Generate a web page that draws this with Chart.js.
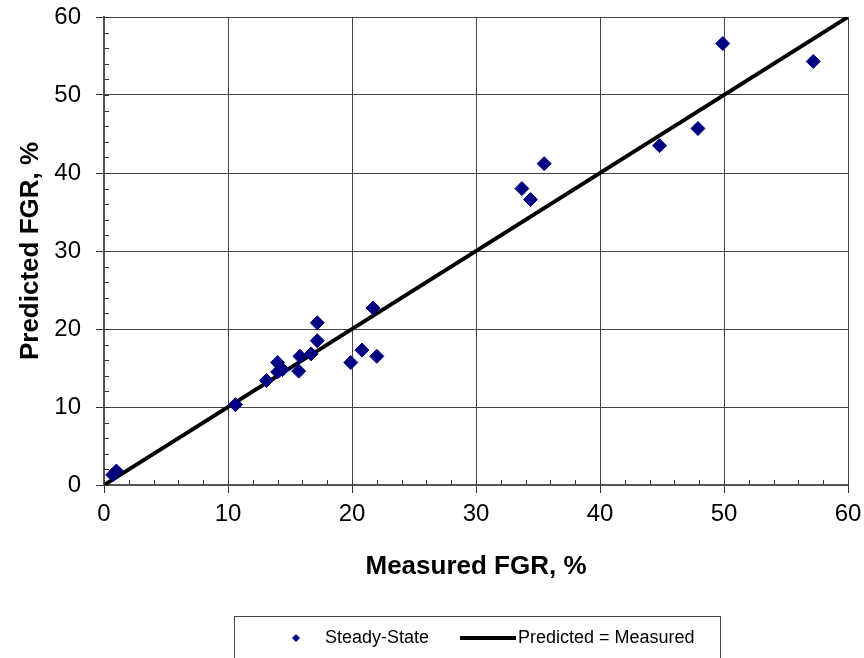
<!DOCTYPE html>
<html>
<head>
<meta charset="utf-8">
<script src="https://cdn.jsdelivr.net/npm/chart.js@4.4.1/dist/chart.umd.min.js"></script>
<style>
  html, body { margin: 0; padding: 0; background: #fff; }
  #wrap { width: 864px; height: 658px; }
</style>
</head>
<body>
<div id="wrap"><canvas id="myChart"></canvas></div>
<script>
// measured vs predicted fission gas release, %
const measured  = [0.7, 1.0, 10.6, 13.1, 14.0, 14.0, 14.4, 15.8, 15.7, 16.7, 17.2, 17.2, 19.9, 20.8, 22.0, 21.7, 33.7, 34.4, 35.5, 44.8, 47.9, 49.9, 57.2];
const predicted = [1.3, 1.8, 10.3, 13.4, 15.7, 14.5, 14.8, 16.5, 14.6, 16.8, 18.5, 20.8, 15.7, 17.3, 16.5, 22.7, 38.0, 36.6, 41.2, 43.5, 45.7, 56.6, 54.3];
const lineX = [0, 60];
const lineY = [0, 60];
const axisMin = 0, axisMax = 60, majorStep = 10, minorStep = 2;
const seriesNames = ['Steady-State', 'Predicted = Measured'];

const FONT = "'Liberation Sans', Arial, sans-serif";
const navy = '#000080';

const minorTicks = {
  id: 'minorTicks',
  afterDraw(chart) {
    const c = chart.ctx, xs = chart.scales.x, ys = chart.scales.y;
    const a = chart.chartArea;
    c.save();
    c.strokeStyle = '#333';
    c.lineWidth = 1;
    c.beginPath();
    for (let v = axisMin; v <= axisMax; v += minorStep) {
      const px = Math.round(xs.getPixelForValue(v)) + 0.5;
      c.moveTo(px, a.bottom);
      c.lineTo(px, a.bottom - 5);
      const py = Math.round(ys.getPixelForValue(v)) + 0.5;
      c.moveTo(a.left, py);
      c.lineTo(a.left + 5, py);
    }
    c.stroke();
    c.restore();
  }
};

const boxLegend = {
  id: 'boxLegend',
  afterDraw(chart) {
    const c = chart.ctx;
    c.save();
    c.strokeStyle = '#444';
    c.lineWidth = 1;
    c.strokeRect(234.5, 616.5, 486, 60);
    c.fillStyle = navy;
    c.beginPath();
    c.moveTo(292, 638); c.lineTo(296, 634); c.lineTo(300, 638); c.lineTo(296, 642);
    c.closePath();
    c.fill();
    c.strokeStyle = '#000';
    c.lineWidth = 4;
    c.beginPath();
    c.moveTo(460, 638);
    c.lineTo(516, 638);
    c.stroke();
    c.fillStyle = '#000';
    c.font = '18px ' + FONT;
    c.textBaseline = 'middle';
    c.textAlign = 'left';
    c.fillText(seriesNames[0], 325, 638);
    c.fillText(seriesNames[1], 518, 638);
    c.restore();
  }
};

const ctx = document.getElementById('myChart');
new Chart(ctx, {
  type: 'scatter',
  data: {
    datasets: [{
      label: seriesNames[0],
      data: measured.map((x, i) => ({x: x, y: predicted[i]})),
      pointStyle: 'rectRot',
      pointRadius: 7,
      pointBorderWidth: 1,
      backgroundColor: navy,
      borderColor: navy,
      order: 0
    }, {
      type: 'line',
      label: seriesNames[1],
      data: lineX.map((x, i) => ({x: x, y: lineY[i]})),
      borderColor: '#000',
      borderWidth: 4,
      pointRadius: 0,
      fill: false,
      order: 1
    }]
  },
  options: {
    responsive: true,
    maintainAspectRatio: false,
    animation: false,
    layout: { padding: { top: 17, right: 16, left: 0, bottom: 0 } },
    plugins: {
      legend: { display: false },
      tooltip: { enabled: false }
    },
    scales: {
      x: {
        type: 'linear',
        min: axisMin,
        max: axisMax,
        ticks: { stepSize: majorStep, color: '#000', font: { family: FONT, size: 24 }, padding: 7 },
        grid: { color: '#444', lineWidth: 1, tickLength: 8, tickColor: '#333' },
        border: { color: '#555', width: 2 },
        title: {
          display: true,
          text: 'Measured FGR, %',
          color: '#000',
          font: { family: FONT, size: 26, weight: 'bold' },
          padding: { top: 0, bottom: 76 }
        },
        afterFit: s => { s.height = 173; s.paddingLeft = 0; s.paddingRight = 0; }
      },
      y: {
        type: 'linear',
        min: axisMin,
        max: axisMax,
        ticks: { stepSize: majorStep, color: '#000', font: { family: FONT, size: 24 }, padding: 15 },
        grid: { color: '#444', lineWidth: 1, tickLength: 8, tickColor: '#333' },
        border: { color: '#555', width: 2 },
        title: {
          display: true,
          text: 'Predicted FGR, %',
          color: '#000',
          font: { family: FONT, size: 26, weight: 'bold' },
          padding: { top: 15, bottom: 0 }
        },
        afterFit: s => { s.width = 104; s.paddingTop = 0; s.paddingBottom = 0; }
      }
    }
  },
  plugins: [minorTicks, boxLegend]
});
</script>
</body>
</html>
